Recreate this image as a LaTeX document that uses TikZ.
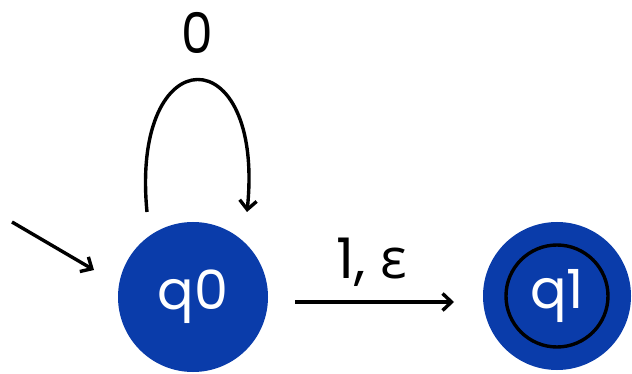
\documentclass[tikz,border=0pt]{standalone}
\usepackage{fontspec}
\setmainfont{Poppins}
\newfontfamily\grk{Open Sans}
\usetikzlibrary{arrows.meta}
\definecolor{stblue}{HTML}{0A3CAA}
\tikzset{
  state/.style={circle, fill=stblue, minimum size=150pt, inner sep=0pt, text=white, font=\fontsize{54}{54}\selectfont},
  conn/.style={line width=3.4pt, -{Straight Barb[length=9pt,width=17pt,line width=3.4pt]}},
  lbl/.style={font=\fontsize{56}{56}\selectfont, text=black}
}
\begin{document}
\begin{tikzpicture}[x=1pt,y=-1pt]
\useasboundingbox (0,0) rectangle (632,374);
\fill[white] (0,0) rectangle (632,374);
\node[state] (q0) at (193,297) {q0};
\node[state, minimum size=148pt] (q1) at (557,296) {};
\draw[line width=3.4pt] (q1.center) circle[radius=51pt];
\node[text=white, font=\fontsize{54}{54}\selectfont] (q1t) at (q1.center) {q1};
\coordinate (ini) at (12,222);
\coordinate (inie) at (94,270);
\draw[conn] (ini) -- (inie);
\coordinate (ls) at (147,212);
\coordinate (le) at (247,212);
\draw[conn] (ls) .. controls (130,36) and (265,36) .. (le);
\node[lbl, xscale=0.9] (l0) at (197,33) {0};
\coordinate (as) at (295,302);
\coordinate (ae) at (454,302);
\draw[conn] (as) -- (ae);
\node[lbl] (l1) at (372,262) {1, {\grk ε}};
\end{tikzpicture}
\end{document}
